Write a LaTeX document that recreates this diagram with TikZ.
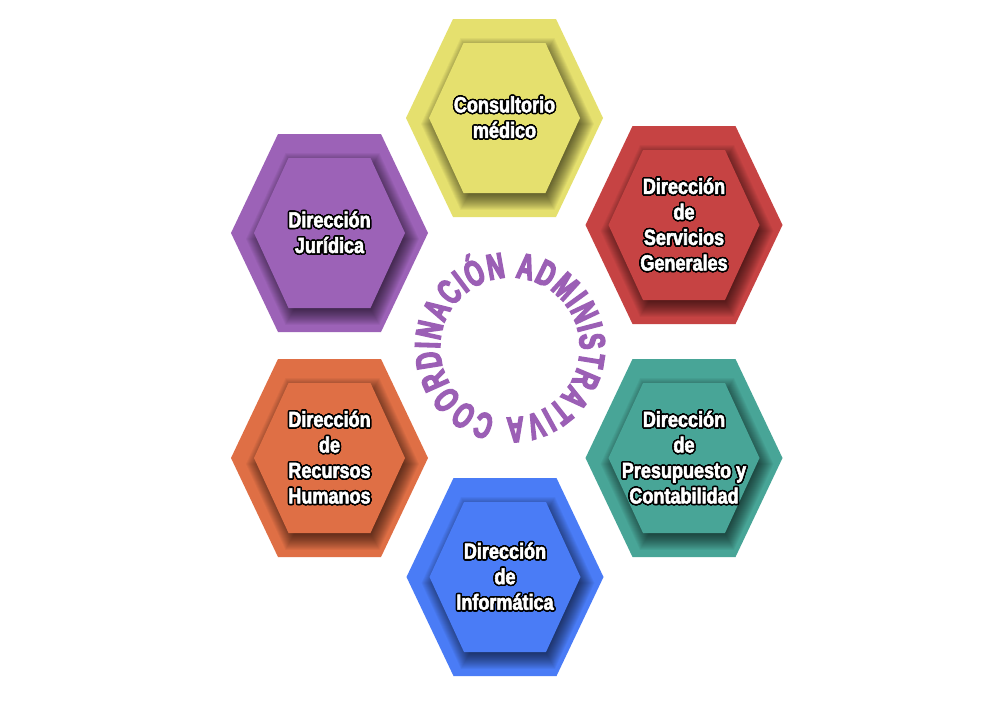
\documentclass[tikz,border=0pt]{standalone}
\usepackage{fontspec}
\usepackage{contour}
\usetikzlibrary{decorations.text}
\newfontfamily\hexfont{Liberation Sans}[UprightFont=* Bold, FakeStretch=0.82, FakeBold=2.5]
\newfontfamily\ringfont{Liberation Sans}[UprightFont=* Bold, FakeStretch=0.65, FakeBold=4]
\contourlength{1.5pt}
\contournumber{24}
\definecolor{hyellow}{HTML}{E5E06E}
\definecolor{hpurple}{HTML}{9C62B7}
\definecolor{hred}{HTML}{C64343}
\definecolor{hteal}{HTML}{48A597}
\definecolor{horange}{HTML}{DF6F45}
\definecolor{hblue}{HTML}{4A7CF6}
\definecolor{ringpurple}{HTML}{9B5FB5}
\tikzset{hextext/.style={align=center, text=white, inner sep=0pt,
  font=\hexfont\fontsize{22}{25.5}\selectfont}}
\newcommand\olt[1]{\contour{black}{#1}}
% fill a hexagon centred at local origin: style, half width, half height, half top edge
\newcommand\fillhex[4]{\fill[#1] (-#2,0) -- (-#4,-#3) -- (#4,-#3) -- (#2,0) -- (#4,#3) -- (-#4,#3) -- cycle;}
\newcommand\cliphexo{\clip (-98.5,0) -- (-51.5,-99) -- (51.5,-99) -- (98.5,0) -- (51.5,99) -- (-51.5,99) -- cycle;}
\newcommand\hexblock[4]{%
  \coordinate (#1) at (#2);
  \begin{scope}[shift={(#1)}]
    \fillhex{#3}{98.5}{99}{51.5}
    \begin{scope}
      \cliphexo
      \foreach \s in {-6,...,11}{%
        \pgfmathsetmacro\sc{1+\s/75.5}%
        \begin{scope}[shift={(3,6)}, scale=\sc]
          \fillhex{black, opacity=0.042}{75.5}{75}{41}
        \end{scope}
      }
    \end{scope}
    \fillhex{#3}{75.5}{75}{41}
  \end{scope}
  \node[hextext] (#1-t) at (#1) {#4};
}
\begin{document}
\begin{tikzpicture}[x=1pt,y=-1pt]
\useasboundingbox[fill=white] (0,0) rectangle (988,724);
\hexblock{consult}{504.5,118}{hyellow}{\olt{Consultorio}\\\olt{médico}}
\hexblock{juridica}{329.5,233}{hpurple}{\olt{Dirección}\\\olt{Jurídica}}
\hexblock{servicios}{684,225}{hred}{\olt{Dirección}\\\olt{de}\\\olt{Servicios}\\\olt{Generales}}
\hexblock{presup}{684,458}{hteal}{\olt{Dirección}\\\olt{de}\\\olt{Presupuesto y}\\\olt{Contabilidad}}
\hexblock{rrhh}{329.5,458}{horange}{\olt{Dirección}\\\olt{de}\\\olt{Recursos}\\\olt{Humanos}}
\hexblock{inform}{505,577}{hblue}{\olt{Dirección}\\\olt{de}\\\olt{Informática}}
\coordinate (ring) at (510,347.5);
\path[decorate, decoration={text along path, text align=fit to path,
  text={|\ringfont\fontsize{36}{36}\selectfont\color{ringpurple}|COORDINACIÓN ADMINISTRATIVA}}]
  ([shift={(102:70)}]ring) arc[start angle=102, end angle=453, radius=70];
\end{tikzpicture}
\end{document}
